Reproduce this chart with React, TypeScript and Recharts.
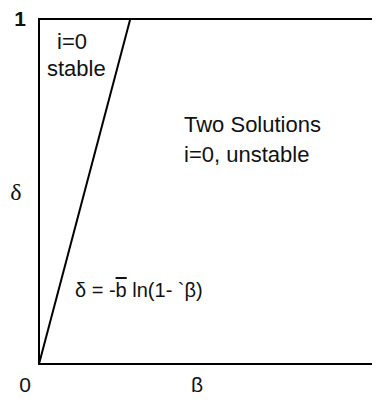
import { LineChart, Line, XAxis, YAxis, ReferenceArea } from "recharts";

// boundary line delta = -b ln(1 - beta), drawn straight as in the figure
const betaValues = [0, 0.27];
const deltaValues = [0, 1];
const xTicks = [0, 1];
const yTicks = [1];

const data = betaValues.map((beta, i) => ({ beta, delta: deltaValues[i] }));

const sans = "'Liberation Sans', Arial, sans-serif";
const serif = "'Liberation Serif', 'Times New Roman', serif";
const ink = "#111";

function XTick({ x, y, payload }: any) {
  const atEnd = payload.value === 1;
  return (
    <text
      x={atEnd ? x + 2 : x - 14}
      y={y + 20}
      textAnchor={atEnd ? "start" : "middle"}
      fontFamily={sans}
      fontSize={21}
      fill={ink}
    >
      {payload.value}
    </text>
  );
}

function YTick({ x, y, payload }: any) {
  return (
    <text x={x - 5} y={y + 7} textAnchor="end" fontFamily={sans} fontSize={21} fontWeight="bold" fill={ink}>
      {payload.value}
    </text>
  );
}

function BetaLabel({ viewBox }: any) {
  return (
    <text x={viewBox.x + viewBox.width / 2 - 11} y={viewBox.y + 28} textAnchor="middle" fontFamily={sans} fontSize={21} fill={ink}>
      β
    </text>
  );
}

function DeltaLabel({ viewBox }: any) {
  return (
    <text x={viewBox.x + 16} y={viewBox.y + viewBox.height / 2 + 8} textAnchor="middle" fontFamily={serif} fontSize={24} fill={ink}>
      δ
    </text>
  );
}

export default function App() {
  return (
    <div style={{ position: "relative", width: 380, height: 400, margin: -8, background: "#fff", overflow: "hidden" }}>
      <LineChart width={380} height={400} data={data} margin={{ top: 19, right: 3, left: 0, bottom: 0 }}>
        <XAxis
          dataKey="beta"
          type="number"
          domain={[0, 1]}
          ticks={xTicks}
          height={36}
          axisLine={false}
          tickLine={false}
          tick={<XTick />}
          label={<BetaLabel />}
        />
        <YAxis
          type="number"
          domain={[0, 1]}
          ticks={yTicks}
          width={39}
          axisLine={false}
          tickLine={false}
          tick={<YTick />}
          label={<DeltaLabel />}
        />
        <ReferenceArea x1={0} x2={1} y1={0} y2={1} stroke="#000" strokeWidth={2} fill="none" fillOpacity={0} />
        <Line type="linear" dataKey="delta" stroke="#000" strokeWidth={2} dot={false} isAnimationActive={false} />
      </LineChart>
      <svg width={380} height={400} style={{ position: "absolute", left: 0, top: 0, pointerEvents: "none" }}>
        <g fontFamily={sans} fontSize={22} fill={ink}>
          <text x={57} y={49}>i=0</text>
          <text x={47} y={76}>stable</text>
          <text x={184} y={132}>Two Solutions</text>
          <text x={184} y={162}>i=0, unstable</text>
          <text x={75} y={297} fontSize={20}>
            δ = -<tspan textDecoration="overline">b</tspan> ln(1- `β)
          </text>
        </g>
      </svg>
    </div>
  );
}
